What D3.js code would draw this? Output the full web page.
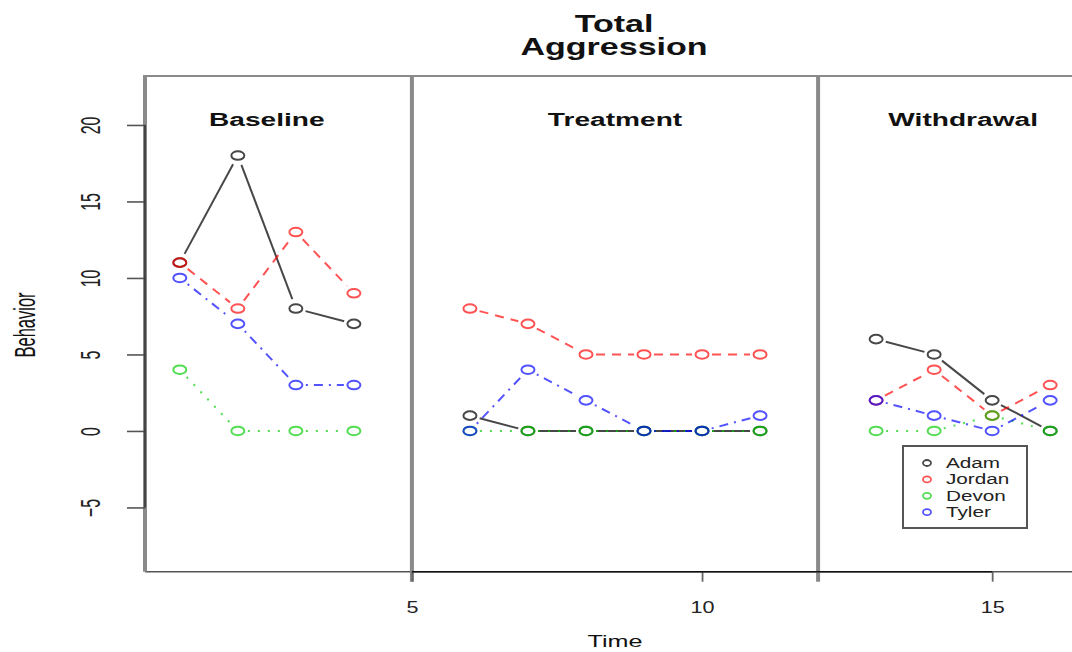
<!DOCTYPE html>
<html>
<head>
<meta charset="utf-8">
<script src="https://cdn.jsdelivr.net/npm/d3@7"></script>
<style>
  html, body { margin: 0; padding: 0; background: #fff; }
  svg { display: block; font-family: "Liberation Sans", Arial, Helvetica, sans-serif; }
</style>
</head>
<body>
<svg id="chart" width="1072" height="652"></svg>
<script>
// Session numbers (gaps at 5 and 12 are the phase changes)
const sessions = [1, 2, 3, 4, 6, 7, 8, 9, 10, 11, 13, 14, 15, 16];
// Phase index of each session
const sessionPhase = [0, 0, 0, 0, 1, 1, 1, 1, 1, 1, 2, 2, 2, 2];
const phaseNames = ["Baseline", "Treatment", "Withdrawal"];
const phaseChanges = [5, 12];

// Behaviour counts per student
const adam   = [11, 18, 8, 7,  1, 0, 0, 0, 0, 0,  6, 5, 2, 0];
const jordan = [11, 8, 13, 9,  8, 7, 5, 5, 5, 5,  2, 4, 1, 3];
const devon  = [4, 0, 0, 0,    0, 0, 0, 0, 0, 0,  0, 0, 1, 0];
const tyler  = [10, 7, 3, 3,   0, 4, 2, 0, 0, 1,  2, 1, 0, 2];

const studentNames = ["Adam", "Jordan", "Devon", "Tyler"];
const studentValues = [adam, jordan, devon, tyler];

const xTicks = [5, 10, 15];
const yTicks = [-5, 0, 5, 10, 15, 20];

// Drawing styles
const colors = ["rgba(0,0,0,0.72)", "rgba(255,0,0,0.68)", "rgba(0,205,0,0.68)", "rgba(0,0,255,0.68)"];
const dashes = [null, "9,7", "2,8", "2,6,9,6"];

const svg = d3.select("#chart");
const W = 1072, H = 652;
svg.append("rect").attr("width", W).attr("height", H).attr("fill", "#fff");

const x = d3.scaleLinear().domain([0.4, 16.6]).range([145, 1085]);
const y = d3.scaleLinear().domain([-9.2, 23.2]).range([571.7, 76]);

const SX = 1.48; // horizontal stretch of the lettering

function hText(txt, cx, by, size, weight) {
  return svg.append("text")
    .attr("transform", `translate(${cx},${by}) scale(${SX},1)`)
    .attr("text-anchor", "middle")
    .attr("font-size", size)
    .attr("font-weight", weight || "normal")
    .attr("fill", "#111")
    .text(txt);
}

// Title
hText("Total", 614, 32, 23, "bold");
hText("Aggression", 614, 55, 23, "bold");

// Plot frame
const [x0, x1] = x.range();
const [yb, yt] = y.range();
svg.append("line").attr("x1", x0).attr("x2", x1).attr("y1", yt).attr("y2", yt)
  .attr("stroke", "#8a8a8a").attr("stroke-width", 2.2);
svg.append("line").attr("x1", x0).attr("x2", x1).attr("y1", yb).attr("y2", yb)
  .attr("stroke", "#555").attr("stroke-width", 1.6);
svg.append("line").attr("x1", x0).attr("x2", x0).attr("y1", yt - 1).attr("y2", yb)
  .attr("stroke", "#8a8a8a").attr("stroke-width", 4);

// Phase change lines
svg.selectAll("line.phase").data(phaseChanges).join("line")
  .attr("class", "phase")
  .attr("x1", d => x(d)).attr("x2", d => x(d))
  .attr("y1", yt - 1).attr("y2", yb + 10)
  .attr("stroke", "#8a8a8a").attr("stroke-width", 4);

// X axis
const xAxis = svg.append("g").attr("transform", `translate(0,${yb})`)
  .call(d3.axisBottom(x).tickValues(xTicks).tickSize(10).tickPadding(20).tickFormat(d3.format("d")));
xAxis.select(".domain").remove();
xAxis.append("line").attr("x1", x(xTicks[0])).attr("x2", x(xTicks[xTicks.length - 1]))
  .attr("stroke", "#111").attr("stroke-width", 1.6);
xAxis.selectAll(".tick line").attr("stroke", "#666").attr("stroke-width", 1.8);
xAxis.selectAll(".tick text")
  .attr("font-size", 16).attr("fill", "#222")
  .attr("font-family", "Liberation Sans, Arial, sans-serif")
  .attr("transform", `scale(1.35,1)`);

// Y axis
const yAxis = svg.append("g").attr("transform", `translate(${x0},0)`)
  .call(d3.axisLeft(y).tickValues(yTicks).tickSize(18).tickFormat(d3.format("d")));
yAxis.select(".domain").remove();
yAxis.append("line").attr("y1", y(yTicks[0])).attr("y2", y(yTicks[yTicks.length - 1]))
  .attr("stroke", "#333").attr("stroke-width", 1.6);
yAxis.selectAll(".tick line").attr("stroke", "#555").attr("stroke-width", 1.6);
yAxis.selectAll(".tick text")
  .attr("x", null).attr("y", null).attr("dy", null)
  .attr("text-anchor", "middle")
  .attr("font-size", 16).attr("fill", "#222")
  .attr("font-family", "Liberation Sans, Arial, sans-serif")
  .attr("transform", "translate(-45,0) rotate(-90) scale(1,1.7)");

// Axis titles
hText("Time", (x0 + x1) / 2, 647, 17);
svg.append("text")
  .attr("transform", `translate(35,${325}) rotate(-90) scale(1,1.75)`)
  .attr("text-anchor", "middle")
  .attr("font-size", 16.5).attr("fill", "#111")
  .text("Behavior");

// Phase labels, centred over each phase's sessions
phaseNames.forEach((name, p) => {
  const xs = sessions.filter((s, i) => sessionPhase[i] === p);
  hText(name, x(d3.mean(xs)), 126, 19, "bold");
});

// Series: lines broken around the points, then open circles
const GAP = 10;
const plot = svg.append("g");
studentValues.forEach((vals, k) => {
  const pts = sessions.map((s, i) => ({ px: x(s), py: y(vals[i]), phase: sessionPhase[i] }));
  const segs = [];
  for (let i = 0; i < pts.length - 1; i++) {
    const a = pts[i], b = pts[i + 1];
    if (a.phase !== b.phase) continue;
    const dx = b.px - a.px, dy = b.py - a.py, d = Math.hypot(dx, dy);
    if (d <= 2 * GAP) continue;
    const ux = dx / d, uy = dy / d;
    segs.push([a.px + ux * GAP, a.py + uy * GAP, b.px - ux * GAP, b.py - uy * GAP]);
  }
  const g = plot.append("g");
  g.selectAll("line").data(segs).join("line")
    .attr("x1", d => d[0]).attr("y1", d => d[1])
    .attr("x2", d => d[2]).attr("y2", d => d[3])
    .attr("stroke", colors[k]).attr("stroke-width", 2)
    .attr("stroke-dasharray", dashes[k]);
  g.selectAll("ellipse").data(pts).join("ellipse")
    .attr("cx", d => d.px).attr("cy", d => d.py)
    .attr("rx", 6.5).attr("ry", 4.3)
    .attr("fill", "none").attr("stroke", colors[k]).attr("stroke-width", 2);
});

// Legend
const legend = svg.append("g");
legend.append("rect").attr("x", 903).attr("y", 446).attr("width", 124).attr("height", 82)
  .attr("fill", "#fff").attr("stroke", "#555").attr("stroke-width", 2);
studentNames.forEach((name, k) => {
  const cy = 463 + k * 16.4;
  legend.append("ellipse").attr("cx", 927).attr("cy", cy).attr("rx", 4).attr("ry", 3)
    .attr("fill", "none").attr("stroke", colors[k]).attr("stroke-width", 1.8);
  legend.append("text")
    .attr("transform", `translate(946,${cy + 5}) scale(${SX},1)`)
    .attr("font-size", 14).attr("fill", "#222")
    .text(name);
});
</script>
</body>
</html>
